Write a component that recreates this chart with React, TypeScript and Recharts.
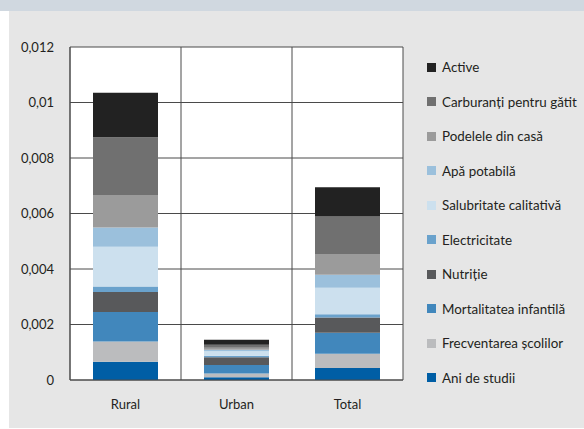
import React from "react";
import { BarChart, Bar, XAxis, YAxis, CartesianGrid } from "recharts";

const categories = ["Rural", "Urban", "Total"];

const aniDeStudii = [0.00066, 0.0001, 0.00043];
const frecventareaScolilor = [0.00073, 0.00013, 0.00052];
const mortalitateaInfantila = [0.00106, 0.00031, 0.00075];
const nutritie = [0.00072, 0.00028, 0.00055];
const electricitate = [0.0002, 0.00005, 0.00012];
const salubritateCalitativa = [0.00143, 0.00017, 0.00095];
const apaPotabila = [0.0007, 0.00005, 0.00047];
const podeleleDinCasa = [0.00117, 0.00007, 0.00075];
const carburantiPentruGatit = [0.00208, 0.00011, 0.00135];
const active = [0.0016, 0.00018, 0.00106];

const yTicks = [0, 0.002, 0.004, 0.006, 0.008, 0.01, 0.012];
const yTickLabels = ["0", "0,002", "0,004", "0,006", "0,008", "0,01", "0,012"];

// bottom to top
const series = [
  { key: "ani", name: "Ani de studii", values: aniDeStudii, color: "#005ea5" },
  { key: "frecv", name: "Frecventarea școlilor", values: frecventareaScolilor, color: "#bbbcbe" },
  { key: "mort", name: "Mortalitatea infantilă", values: mortalitateaInfantila, color: "#4187bc" },
  { key: "nutr", name: "Nutriție", values: nutritie, color: "#58595b" },
  { key: "elec", name: "Electricitate", values: electricitate, color: "#6aa2cc" },
  { key: "salub", name: "Salubritate calitativă", values: salubritateCalitativa, color: "#cce0ee" },
  { key: "apa", name: "Apă potabilă", values: apaPotabila, color: "#9bc0dc" },
  { key: "pod", name: "Podelele din casă", values: podeleleDinCasa, color: "#9b9b9b" },
  { key: "carb", name: "Carburanți pentru gătit", values: carburantiPentruGatit, color: "#707070" },
  { key: "act", name: "Active", values: active, color: "#222222" },
];

const data = categories.map((c, i) => {
  const row: Record<string, any> = { name: c };
  series.forEach((s) => {
    row[s.key] = s.values[i];
  });
  return row;
});

const FONT = "'Lato', 'Open Sans', sans-serif";

function LegendBox() {
  const items = [...series].reverse();
  return (
    <div
      style={{
        position: "absolute",
        left: 418,
        top: 39,
        width: 166,
        fontFamily: FONT,
        fontSize: 13.4,
        color: "#231f20",
        whiteSpace: "nowrap",
      }}
    >
      {items.map((s) => (
        <div key={s.key} style={{ display: "flex", alignItems: "center", height: 34.5 }}>
          <span
            style={{
              display: "inline-block",
              width: 9,
              height: 9,
              background: s.color,
              marginRight: 6,
            }}
          />
          <span>{s.name}</span>
        </div>
      ))}
    </div>
  );
}

export default function App() {
  return (
    <div
      style={{
        position: "absolute",
        left: 0,
        top: 0,
        width: 584,
        height: 429,
        background: "#ffffff",
      }}
    >
      <div
        style={{
          position: "absolute",
          left: 0,
          top: 0,
          width: 584,
          height: 11,
          background: "#d0d8e0",
        }}
      />
      <div
        style={{
          position: "absolute",
          left: 9,
          top: 11,
          width: 575,
          height: 417,
          background: "#e6e6e6",
        }}
      >
        <BarChart
          width={575}
          height={417}
          data={data}
          margin={{ top: 36, right: 181, bottom: 18, left: 0 }}
          barSize={65}
        >
          <CartesianGrid
            fill="#ffffff"
            stroke="#4a4a4a"
            strokeWidth={1}
            verticalCoordinatesGenerator={({ offset }: any) => [
              offset.left,
              offset.left + offset.width / 3,
              offset.left + (2 * offset.width) / 3,
              offset.left + offset.width,
            ]}
          />
          <XAxis
            dataKey="name"
            axisLine={{ stroke: "#4a4a4a" }}
            tickLine={false}
            tickMargin={14}
            height={30}
            tick={{ fill: "#231f20", fontSize: 13, fontFamily: FONT }}
          />
          <YAxis
            width={61}
            domain={[0, 0.012]}
            ticks={yTicks}
            interval={0}
            tickFormatter={(v: number) => yTickLabels[yTicks.indexOf(v)] ?? String(v)}
            axisLine={{ stroke: "#4a4a4a" }}
            tickLine={false}
            tickMargin={10}
            tick={{ fill: "#231f20", fontSize: 13, fontFamily: FONT }}
          />
          {series.map((s) => (
            <Bar
              key={s.key}
              dataKey={s.key}
              name={s.name}
              stackId="a"
              fill={s.color}
              isAnimationActive={false}
            />
          ))}
        </BarChart>
        <LegendBox />
      </div>
    </div>
  );
}
